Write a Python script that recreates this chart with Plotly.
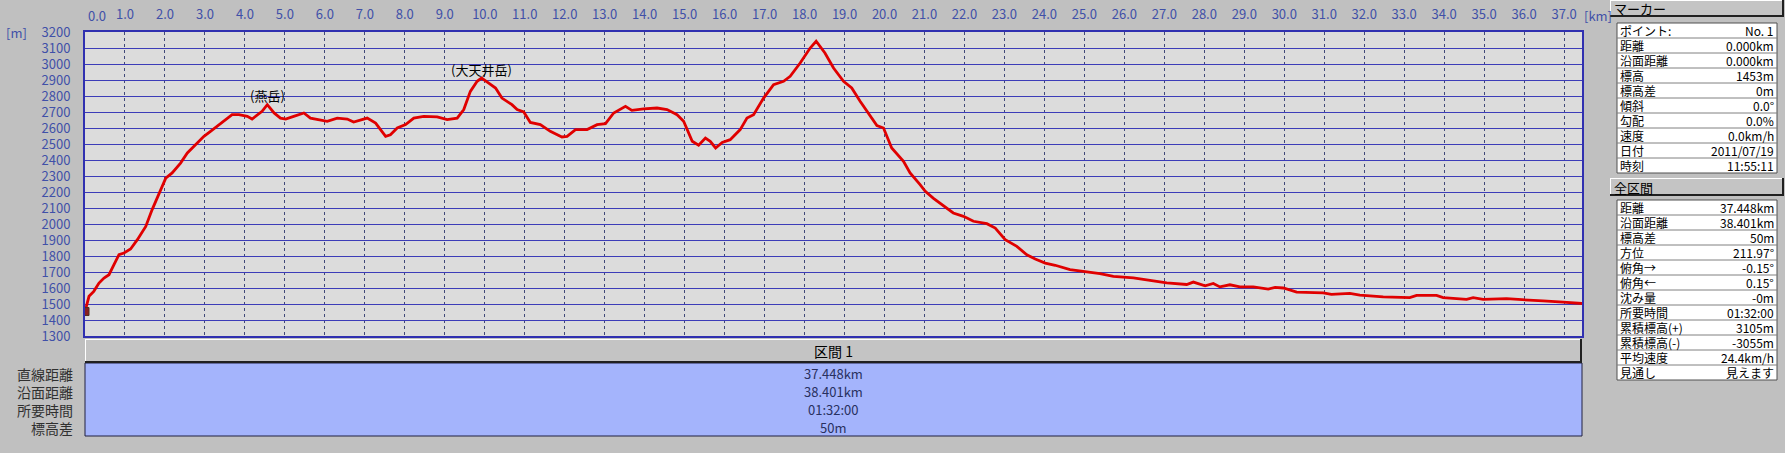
import plotly.graph_objects as go

# profile (distance km, elevation m)
dist_km = [0.0, 0.1, 0.22, 0.35, 0.475, 0.6, 0.725, 0.85, 0.975, 1.14, 1.31, 1.52, 1.68, 1.85,
           2.02, 2.18, 2.39, 2.56, 2.77, 2.975, 3.14, 3.31, 3.475, 3.68, 3.85, 4.06, 4.18, 4.31,
           4.43, 4.56, 4.73, 4.89, 5.02, 5.22, 5.475, 5.64, 5.89, 6.06, 6.31, 6.56, 6.72, 7.06,
           7.27, 7.39, 7.52, 7.64, 7.81, 8.02, 8.225, 8.475, 8.81, 9.06, 9.31, 9.475, 9.64, 9.81,
           9.92, 10.1, 10.27, 10.43, 10.68, 10.81, 10.975, 11.14, 11.39, 11.64, 11.93, 12.06,
           12.27, 12.56, 12.81, 13.02, 13.225, 13.52, 13.68, 13.975, 14.31, 14.56, 14.81, 14.975,
           15.19, 15.35, 15.52, 15.64, 15.775, 15.94, 16.14, 16.39, 16.56, 16.725, 16.975, 17.225,
           17.475, 17.64, 17.89, 18.14, 18.29, 18.51, 18.725, 18.975, 19.18, 19.39, 19.64, 19.81,
           19.975, 20.18, 20.475, 20.64, 20.89, 21.02, 21.225, 21.6, 21.72, 21.975, 22.225, 22.56,
           22.77, 23.02, 23.31, 23.56, 23.77, 24.02, 24.27, 24.64, 24.975, 25.39, 25.725, 26.225,
           26.725, 27.06, 27.56, 27.725, 28.02, 28.225, 28.39, 28.64, 28.89, 29.225, 29.6, 29.77,
           29.975, 30.31, 30.975, 31.18, 31.64, 31.89, 32.475, 33.14, 33.31, 33.81, 33.975, 34.56,
           34.725, 34.975, 35.56, 36.06, 36.475, 36.975, 37.448]
elev_m = [1453, 1548, 1579, 1631, 1662, 1683, 1746, 1808, 1819, 1844, 1902, 1985, 2090, 2194,
          2287, 2319, 2381, 2444, 2496, 2548, 2579, 2610, 2642, 2683, 2683, 2673, 2656, 2683,
          2704, 2746, 2694, 2662, 2656, 2673, 2694, 2662, 2652, 2642, 2662, 2656, 2637, 2662,
          2631, 2590, 2548, 2558, 2600, 2621, 2662, 2673, 2669, 2652, 2662, 2715, 2829, 2892,
          2912, 2881, 2850, 2787, 2746, 2715, 2700, 2635, 2621, 2579, 2544, 2548,
          2590, 2590, 2621, 2627, 2694, 2735, 2710, 2719, 2725, 2715, 2683, 2642,
          2517, 2492, 2537, 2517, 2475, 2510, 2527, 2590, 2662, 2683, 2787, 2871,
          2892, 2923, 3006, 3100, 3142, 3069, 2975, 2892, 2850, 2767, 2673, 2615,
          2600, 2475, 2392, 2319, 2246, 2204, 2160, 2095, 2069, 2048, 2017, 2002,
          1975, 1902, 1860, 1808, 1781, 1756, 1742, 1715, 1704, 1690, 1673, 1663,
          1645, 1632, 1622, 1637, 1614, 1628, 1607, 1620, 1607, 1607, 1593, 1604,
          1600, 1574, 1570, 1560, 1566, 1556, 1544, 1540, 1554, 1554, 1540, 1529,
          1540, 1529, 1533, 1523, 1519, 1512, 1503]

peak_names = ["(燕岳)", "(大天井岳)"]
peak_idx = [29, 56]

x_ticks = list(range(1, 38))
y_ticks = list(range(1300, 3201, 100))

marker_labels = ["ポイント:", "距離", "沿面距離", "標高", "標高差", "傾斜", "勾配", "速度", "日付", "時刻"]
marker_values = ["No. 1", "0.000km", "0.000km", "1453m", "0m", "0.0°", "0.0%", "0.0km/h", "2011/07/19", "11:55:11"]
total_labels = ["距離", "沿面距離", "標高差", "方位", "俯角→", "俯角←", "沈み量", "所要時間",
                "累積標高(+)", "累積標高(-)", "平均速度", "見通し"]
total_values = ["37.448km", "38.401km", "50m", "211.97°", "-0.15°", "0.15°", "-0m", "01:32:00",
                "3105m", "-3055m", "24.4km/h", "見えます"]
section_title = "区間 1"
section_labels = ["直線距離", "沿面距離", "所要時間", "標高差"]
section_values = ["37.448km", "38.401km", "01:32:00", "50m"]

W, H = 1785, 453
FONT = "Noto Sans CJK JP"
TICK_BLUE = "#4050a8"


def px(x):
    return x / W


def py(y):
    return 1 - y / H


fig = go.Figure()
fig.add_trace(go.Scatter(x=dist_km, y=elev_m, mode="lines",
                         line=dict(color="#e00000", width=2.8), hoverinfo="skip"))
# little hiker at the start point
fig.add_trace(go.Scatter(x=[dist_km[0]], y=[elev_m[0]], mode="markers",
                         marker=dict(symbol="square", size=8, color="#8a2020",
                                     line=dict(color="#503020", width=1)),
                         hoverinfo="skip"))

shapes = []
ann = []


def box(x0, y0, x1, y1, fill, line="#404040", lw=1):
    shapes.append(dict(type="rect", xref="paper", yref="paper", x0=px(x0), x1=px(x1),
                       y0=py(y1), y1=py(y0), fillcolor=fill, line=dict(color=line, width=lw),
                       layer="below"))


def hline(x0, x1, y, color, lw=1):
    shapes.append(dict(type="line", xref="paper", yref="paper", x0=px(x0), x1=px(x1),
                       y0=py(y), y1=py(y), line=dict(color=color, width=lw)))


def vline(x, y0, y1, color, lw=1):
    shapes.append(dict(type="line", xref="paper", yref="paper", x0=px(x), x1=px(x),
                       y0=py(y0), y1=py(y1), line=dict(color=color, width=lw)))


def text(x, y, s, anchor="center", color="#000000", size=13):
    ann.append(dict(xref="paper", yref="paper", x=px(x), y=py(y), text=s, showarrow=False,
                    xanchor=anchor, yanchor="middle", borderpad=0,
                    font=dict(family=FONT, size=size, color=color)))


def raised_bar(x0, y0, x1, y1):
    box(x0, y0, x1, y1, "#c4c4c4", line="rgba(0,0,0,0)", lw=0)
    hline(x0, x1, y0 + 0.5, "#ffffff")
    vline(x0 + 0.5, y0, y1, "#ffffff")
    hline(x0, x1, y1 - 1, "#202020", 2)
    vline(x1 - 1, y0, y1, "#202020", 2)


def info_table(top, labels, values):
    x0, x1, rh = 1617, 1777, 15
    box(x0, top, x1, top + rh * len(labels), "#ffffff", line="#505050")
    for i, (lab, val) in enumerate(zip(labels, values)):
        if i:
            hline(x0, x1, top + rh * i, "#808080")
        yc = top + rh * i + rh / 2
        text(x0 + 2, yc, lab, anchor="left", size=12)
        text(x1 - 2, yc, val, anchor="right", size=12)


# right hand panel
raised_bar(1610, 0, 1784, 17)
text(1613, 8.5, "マーカー", anchor="left")
info_table(23, marker_labels, marker_values)
raised_bar(1610, 178, 1784, 196)
text(1613, 187, "全区間", anchor="left")
info_table(200, total_labels, total_values)

# section table under the chart
raised_bar(85, 339, 1582, 363)
text(833, 351, section_title, size=14)
box(85, 363, 1582, 436, "#a4b4fc", line="#202040")
for i, (lab, val) in enumerate(zip(section_labels, section_values)):
    text(833, 373 + 18 * i, val, color="#283060")
    text(74, 374 + 18 * i, lab, anchor="right", color="#303030", size=14)

# axis extras
text(5, 32, "[m]", anchor="left", color=TICK_BLUE)
text(87, 16, "0.0", anchor="left", color=TICK_BLUE)
text(1583, 16, "[km]", anchor="left", color=TICK_BLUE)

for name, i in zip(peak_names, peak_idx):
    ann.append(dict(x=dist_km[i], y=elev_m[i], xref="x", yref="y", text=name, showarrow=False,
                    yanchor="middle", yshift=9, font=dict(family=FONT, size=13, color="#000000")))

fig.update_layout(
    width=W, height=H, autosize=False,
    margin=dict(l=0, r=0, t=0, b=0),
    paper_bgcolor="#c0c0c0", plot_bgcolor="#dcdcdc",
    showlegend=False,
    shapes=shapes, annotations=ann,
    font=dict(family=FONT, size=13, color=TICK_BLUE),
    xaxis=dict(domain=[px(85), px(1582)], range=[0, 37.448], side="top",
               tickvals=x_ticks, ticktext=[f"{v:.1f}" for v in x_ticks],
               showgrid=True, gridcolor="#404878", griddash="dot", gridwidth=1,
               showline=True, mirror=True, linecolor="#3030b0", linewidth=2,
               zeroline=False, ticks="", ticklabelstandoff=6, automargin=False,
               tickfont=dict(family=FONT, size=13, color=TICK_BLUE), fixedrange=True),
    yaxis=dict(domain=[py(336), py(32)], range=[1300, 3200],
               tickvals=y_ticks, ticktext=[str(v) for v in y_ticks],
               showgrid=True, gridcolor="#3c3cb8", gridwidth=1.2,
               showline=True, mirror=True, linecolor="#3030b0", linewidth=2,
               zeroline=False, ticks="", ticklabelstandoff=10, automargin=False,
               tickfont=dict(family=FONT, size=13, color=TICK_BLUE), fixedrange=True),
)

fig.write_html("out.html", config={"displayModeBar": False},
               post_script="document.body.style.margin='0px';document.body.style.overflow='hidden';")
